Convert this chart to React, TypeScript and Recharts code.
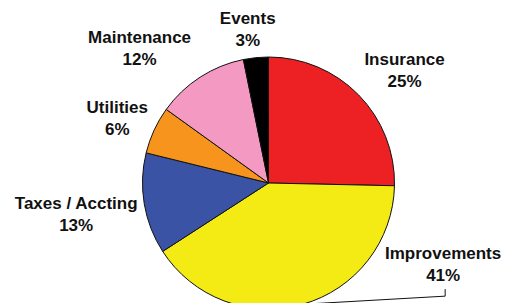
import { PieChart, Pie, Cell } from "recharts";

const categories = ["Insurance", "Improvements", "Taxes / Accting", "Utilities", "Maintenance", "Events"];
const amounts = [25.4, 40.6, 13.0, 6.1, 11.9, 3.2];
const colors = ["#ED2024", "#F5EB14", "#3A53A4", "#F7941D", "#F49AC2", "#000000"];

// label placement: distance from centre and turn from the slice's mid angle
const labelDist = [176, 193, 195, 164, 186, 154];
const labelTurn = [-5, 49, 0, 2, 11, 2];

const data = categories.map((name, i) => ({ name, value: amounts[i] }));

const RAD = Math.PI / 180;

function renderLabel(props: any) {
  const { cx, cy, midAngle, outerRadius, percent, index, name } = props;
  const a = (midAngle + labelTurn[index]) * RAD;
  const x = cx + labelDist[index] * Math.cos(-a);
  const y = cy + labelDist[index] * Math.sin(-a);
  const pct = `${Math.round(percent * 100)}%`;
  let leader = null;
  if (name === "Improvements") {
    const sx = cx + outerRadius * Math.cos(-midAngle * RAD);
    const sy = cy + outerRadius * Math.sin(-midAngle * RAD);
    const ex = x + 2;
    leader = (
      <polyline
        points={`${sx},${sy} ${ex},${y + 31} ${ex},${y + 24}`}
        fill="none"
        stroke="#111"
        strokeWidth={1}
      />
    );
  }
  return (
    <g key={`lbl-${index}`}>
      {leader}
      <text
        x={x}
        y={y - 6}
        textAnchor="middle"
        fill="#111"
        style={{ fontFamily: "'Liberation Sans', Arial, sans-serif", fontWeight: 700, fontSize: 17 }}
      >
        <tspan x={x}>{name}</tspan>
        <tspan x={x} dy={22}>{pct}</tspan>
      </text>
    </g>
  );
}

export default function App() {
  return (
    <div style={{ position: "absolute", left: 0, top: 0, width: 506, height: 303, background: "#fff", overflow: "hidden" }}>
      <PieChart width={506} height={303} margin={{ top: 0, right: 0, bottom: 0, left: 0 }}>
        <Pie
          data={data}
          dataKey="value"
          nameKey="name"
          cx={268.5}
          cy={183}
          outerRadius={126}
          startAngle={90}
          endAngle={-270}
          stroke="#111"
          strokeWidth={1}
          label={renderLabel}
          labelLine={false}
          isAnimationActive={false}
        >
          {data.map((d, i) => (
            <Cell key={d.name} fill={colors[i]} />
          ))}
        </Pie>
      </PieChart>
    </div>
  );
}
